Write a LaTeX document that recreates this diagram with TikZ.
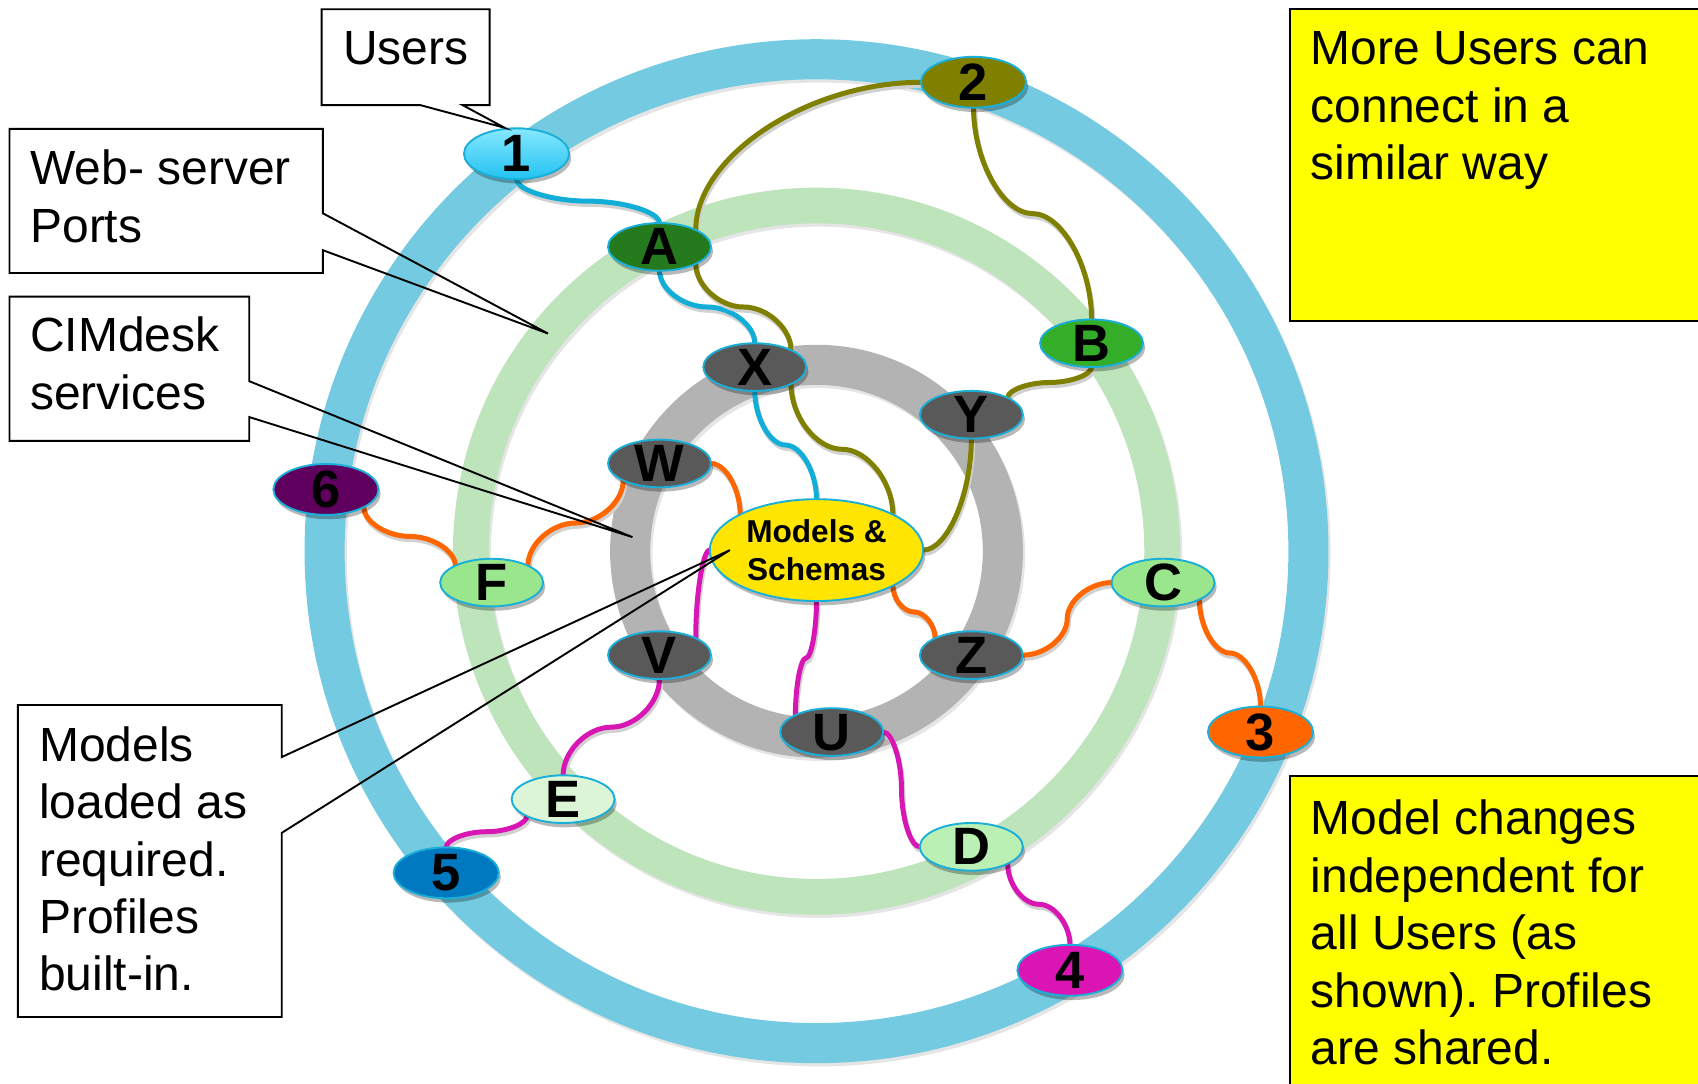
\documentclass[tikz,border=0pt]{standalone}
\usepackage{fontspec}
\setmainfont{Liberation Sans}
\usetikzlibrary{shapes.geometric,calc,shadows}
\frenchspacing

\definecolor{ringblue}{HTML}{74CBE1}
\definecolor{ringgreen}{HTML}{BDE4BA}
\definecolor{ringgray}{HTML}{B3B3B3}
\definecolor{rimcyan}{HTML}{1AAFD8}
\definecolor{wireblue}{HTML}{12AED8}
\definecolor{wireolive}{HTML}{808000}
\definecolor{wireorange}{HTML}{FF6600}
\definecolor{wiremagenta}{HTML}{D816B4}
\definecolor{portgray}{HTML}{595959}
\definecolor{onetop}{HTML}{86E8FF}
\definecolor{onebottom}{HTML}{22C2F1}
\definecolor{userolive}{HTML}{7F7F00}
\definecolor{portdkgreen}{HTML}{257A1E}
\definecolor{portgreen}{HTML}{34AE29}
\definecolor{userpurple}{HTML}{5F005F}
\definecolor{portlime}{HTML}{99E68C}
\definecolor{portpale}{HTML}{DCF5D7}
\definecolor{portmint}{HTML}{BBF0B5}
\definecolor{userblue}{HTML}{0079C1}
\definecolor{userorange}{HTML}{FF6600}
\definecolor{usermagenta}{HTML}{DB14B4}
\definecolor{coreyellow}{HTML}{FFE500}
\definecolor{noteyellow}{HTML}{FFFF00}

\pgfdeclarelayer{rings}
\pgfdeclarelayer{wires}
\pgfsetlayers{rings,wires,main}

% letter centred in a port without enlarging the ellipse
\newcommand{\ctrtxt}[1]{\raisebox{-0.5\height}[0pt][0pt]{#1}}
% text block whose baseline is its first line
\newcommand{\calltext}[1]{\parbox[t]{4.2cm}{\fontsize{12.6pt}{15.08pt}\selectfont\raggedright #1}}

\tikzset{
  port/.style={ellipse, draw=rimcyan, line width=0.5pt,
    minimum width=0.95cm, minimum height=0.44cm, inner sep=0pt, outer sep=0pt,
    font=\fontsize{13.8pt}{16pt}\selectfont\bfseries,
    drop shadow={shadow xshift=0.02cm, shadow yshift=-0.04cm, fill=black, opacity=0.28}},
  userport/.style={port, minimum width=0.97cm, minimum height=0.47cm},
  wire/.style={line width=0.046cm, line cap=round, draw=#1,
    preaction={draw=black!18, line width=0.046cm,
      transform canvas={shift={(0.012cm,-0.03cm)}}}},
  % curved connectors: vertical/horizontal ends, bend in the middle
  vv/.style={to path={let \p1=(\tikztostart), \p2=(\tikztotarget),
      \p3=($(\p1)!0.5!(\p2)$) in
      .. controls (\x1,{0.5*\y1+0.5*\y3}) and ({0.5*\x1+0.5*\x3},\y3) .. (\p3)
      .. controls ({0.5*\x3+0.5*\x2},\y3) and (\x2,{0.5*\y3+0.5*\y2}) .. (\p2)}},
  hh/.style={to path={let \p1=(\tikztostart), \p2=(\tikztotarget),
      \p3=($(\p1)!0.5!(\p2)$) in
      .. controls ({0.5*\x1+0.5*\x3},\y1) and (\x3,{0.5*\y1+0.5*\y3}) .. (\p3)
      .. controls (\x3,{0.5*\y3+0.5*\y2}) and ({0.5*\x3+0.5*\x2},\y2) .. (\p2)}},
  hv/.style={to path={let \p1=(\tikztostart), \p2=(\tikztotarget) in
      .. controls ({0.5*\x1+0.5*\x2},\y1) and (\x2,{0.5*\y1+0.5*\y2}) .. (\p2)}},
  vh/.style={to path={let \p1=(\tikztostart), \p2=(\tikztotarget) in
      .. controls (\x1,{0.5*\y1+0.5*\y2}) and ({0.5*\x1+0.5*\x2},\y2) .. (\p2)}},
  callbox/.style={fill=white, anchor=north west, inner sep=0pt, outer sep=0pt},
  calloutline/.style={draw=black, line width=0.5pt, line join=miter},
  notebox/.style={fill=noteyellow, draw=black, line width=0.55pt, anchor=north west,
    inner sep=0pt, outer sep=0pt},
  calltxt/.style={anchor=base west, inner sep=0pt, outer sep=0pt},
}

\begin{document}
\begin{tikzpicture}[x=0.01cm, y=-0.01cm]
\useasboundingbox (0,0) rectangle (1568,1001);

% ---- the three service rings ----
\begin{pgfonlayer}{rings}
\coordinate (ctr) at (754,509);
\foreach \r/\w/\c in {4.54cm/0.37cm/ringblue, 3.19cm/0.33cm/ringgreen, 1.72cm/0.37cm/ringgray}{
  \draw[black!10, line width=\w] ($(ctr)+(2,3)$) circle[radius=\r];
  \draw[\c, line width=\w] (ctr) circle[radius=\r];
}
\end{pgfonlayer}

% ---- ports ----
\node[userport, top color=onetop, bottom color=onebottom] (n1) at (477,142) {\ctrtxt{1}};
\node[userport, fill=userolive]   (n2) at (899,76)  {\ctrtxt{2}};
\node[port, fill=portdkgreen]     (nA) at (609,228) {\ctrtxt{A}};
\node[port, fill=portgreen]       (nB) at (1008,317) {\ctrtxt{B}};
\node[port, fill=portgray]        (nX) at (697,339) {\ctrtxt{X}};
\node[port, fill=portgray]        (nY) at (897,383) {\ctrtxt{Y}};
\node[port, fill=portgray]        (nW) at (609,428) {\ctrtxt{W}};
\node[userport, fill=userpurple]  (n6) at (301,452) {\ctrtxt{6}};
\node[port, fill=portlime]        (nF) at (454,538) {\ctrtxt{F}};
\node[port, fill=portlime]        (nC) at (1074,538) {\ctrtxt{C}};
\node[port, fill=portgray]        (nV) at (609,605) {\ctrtxt{V}};
\node[port, fill=portgray]        (nZ) at (897,605) {\ctrtxt{Z}};
\node[userport, fill=userorange]  (n3) at (1164,676) {\ctrtxt{3}};
\node[port, fill=portgray]        (nU) at (768,676) {\ctrtxt{U}};
\node[port, fill=portpale]        (nE) at (520,738) {\ctrtxt{E}};
\node[port, fill=portmint]        (nD) at (897,782) {\ctrtxt{D}};
\node[userport, fill=userblue]    (n5) at (412,806) {\ctrtxt{5}};
\node[userport, fill=usermagenta] (n4) at (988,896) {\ctrtxt{4}};
\node[port, fill=coreyellow, minimum width=1.97cm, minimum height=0.94cm] (nM) at (754,508) {};
\node[font=\fontsize{8.3pt}{10pt}\selectfont\bfseries, align=center, inner sep=0pt]
  (nMtxt) at (nM) {Models \&\\Schemas};

% ---- connectors, kept behind the ports ----
\begin{pgfonlayer}{wires}
% user 1
\draw[wire=wireblue] (n1.south) to[vv] (nA.north);
\draw[wire=wireblue] (nA.south) to[vv] (nX.north);
\draw[wire=wireblue] (nX.south) to[vv] (nM.north);
% user 2
\draw[wire=wireolive] (n2.west) to[hv] (nA.25);
\draw[wire=wireolive] (nA.-25) to[vv] (nX.25);
\draw[wire=wireolive] (nX.-25) to[vv] (nM.25);
\draw[wire=wireolive] (n2.south) to[vv] (nB.north);
\draw[wire=wireolive] (nB.south) to[vv] (nY.25);
\draw[wire=wireolive] (nY.south) to[vh] (nM.east);
% users 6 and 3
\draw[wire=wireorange] (n6.-25) to[vv] (nF.155);
\draw[wire=wireorange] (nF.25) to[vv] (nW.-155);
\draw[wire=wireorange] (nW.east) to[hv] (nM.155);
\draw[wire=wireorange] (nM.-25) to[vv] (nZ.155);
\draw[wire=wireorange] (nZ.east) to[hh] (nC.west);
\draw[wire=wireorange] (nC.-25) to[vv] (n3.north);
% users 5 and 4
\draw[wire=wiremagenta] (nM.west) to[hv] (nV.25);
\draw[wire=wiremagenta] (nV.south) to[vv] (nE.north);
\draw[wire=wiremagenta] (nE.-155) to[vv] (n5.north);
\draw[wire=wiremagenta] (nM.south) to[vv] (nU.155);
\draw[wire=wiremagenta] (nU.east) to[hh] (nD.west);
\draw[wire=wiremagenta] (nD.-25) to[vv] (n4.north);
\end{pgfonlayer}

% ---- callouts ----
\node[callbox, minimum width=1.55cm, minimum height=0.884cm] (usrbox) at (297,8.6) {};
\coordinate (usrtip) at (466,118);
\draw[calloutline] ($(usrbox.south west)!0.587!(usrbox.south east)$) -- (usrbox.south west)
  -- (usrbox.north west) -- (usrbox.north east) -- (usrbox.south east)
  -- ($(usrbox.south west)!0.839!(usrbox.south east)$) -- (usrtip) -- cycle;
\node[calltxt] (usrtxt) at (317,60) {\calltext{Users}};

\node[callbox, minimum width=2.892cm, minimum height=1.33cm] (webbox) at (8.8,119) {};
\coordinate (webtip) at (506,308);
\draw[calloutline] ($(webbox.north east)!0.586!(webbox.south east)$) -- (webbox.north east)
  -- (webbox.north west) -- (webbox.south west) -- (webbox.south east)
  -- ($(webbox.north east)!0.842!(webbox.south east)$) -- (webtip) -- cycle;
\node[calltxt] (webtxt) at (28,170.8) {\calltext{Web- server\\Ports}};

\node[callbox, minimum width=2.212cm, minimum height=1.33cm] (cimbox) at (8.8,274) {};
\coordinate (cimtip) at (584,496);
\draw[calloutline] ($(cimbox.north east)!0.586!(cimbox.south east)$) -- (cimbox.north east)
  -- (cimbox.north west) -- (cimbox.south west) -- (cimbox.south east)
  -- ($(cimbox.north east)!0.835!(cimbox.south east)$) -- (cimtip) -- cycle;
\node[calltxt] (cimtxt) at (28,324.7) {\calltext{CIMdesk\\services}};

\node[callbox, minimum width=2.435cm, minimum height=2.88cm] (modbox) at (16.5,651) {};
\coordinate (modtip) at (674,508);
\draw[calloutline] ($(modbox.north east)!0.167!(modbox.south east)$) -- (modbox.north east)
  -- (modbox.north west) -- (modbox.south west) -- (modbox.south east)
  -- ($(modbox.north east)!0.41!(modbox.south east)$) -- (modtip) -- cycle;
\node[calltxt] (modtxt) at (36.3,703)
  {\calltext{Models\\loaded as\\required.\\Profiles\\built-in.}};

% ---- notes ----
\node[notebox, minimum width=4.09cm, minimum height=2.874cm] (morebox) at (1191,8.6) {};
\node[calltxt] (moretxt) at (1210.5,60) {\calltext{More Users can\\connect in a\\similar way}};
\node[notebox, minimum width=4.09cm, minimum height=3.235cm] (chgbox) at (1191,716.5) {};
\node[calltxt] (chgtxt) at (1210.5,771)
  {\calltext{Model changes\\independent for\\all Users (as\\shown). Profiles\\are shared.}};
\end{tikzpicture}
\end{document}
